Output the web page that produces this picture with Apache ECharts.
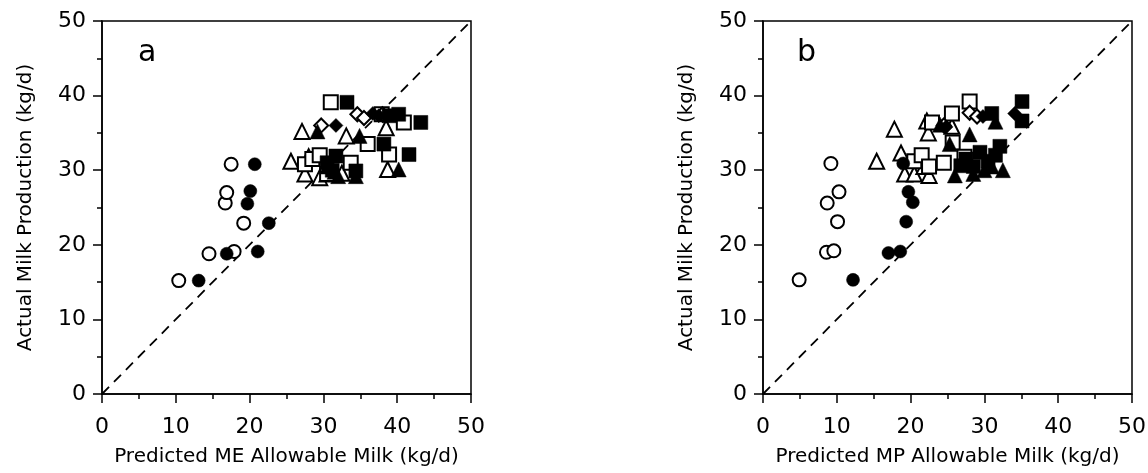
<!DOCTYPE html>
<html><head><meta charset="utf-8">
<script src="https://cdn.jsdelivr.net/npm/echarts@6/dist/echarts.min.js"></script>
<style>html,body{margin:0;padding:0;background:#fff}#c{width:1148px;height:473px}</style>
</head><body><div id="c"></div><script>
// ---- data ----
const axisMin = 0, axisMax = 50, axisInterval = 10;
const panelLabels = ['a', 'b'];
const xTitles = ['Predicted ME Allowable Milk (kg/d)', 'Predicted MP Allowable Milk (kg/d)'];
const yTitle = 'Actual Milk Production (kg/d)';
const identityLine = [[0, 0], [50, 50]];

// Panel a (ME)
const openCircleA = [[10.4,15.2],[14.5,18.8],[17.9,19.1],[19.2,22.9],[16.7,25.6],[16.9,27.0],[17.5,30.8]];
const filledCircleA = [[13.1,15.2],[16.9,18.8],[21.1,19.1],[22.6,22.9],[19.7,25.5],[20.1,27.2],[20.7,30.8]];
const openTriA = [[27.1,35.2],[33.1,34.6],[38.5,35.7],[25.6,31.2],[38.7,30.1],[28.0,31.8],[27.5,29.5],[29.5,29.0],[30.5,29.5],[32.5,29.6]];
const filledTriA = [[29.2,35.2],[34.9,34.6],[40.2,30.1],[34.4,29.2],[30.5,30.5],[31.5,29.8],[32.0,29.2]];
const openSqA = [[31.0,39.1],[37.9,37.5],[40.9,36.4],[36.0,33.5],[38.9,32.1],[27.5,30.8],[28.5,31.5],[30.5,29.5],[33.7,31.0],[29.5,32.0]];
const filledSqA = [[33.2,39.1],[38.9,37.3],[40.2,37.5],[43.2,36.4],[38.2,33.5],[41.6,32.1],[31.7,31.9],[34.4,29.9],[30.5,31.0],[31.2,30.0]];
const openDiaA = [[29.7,36.0],[34.6,37.5],[35.5,37.0],[38.0,37.5]];
const filledDiaA = [[31.7,36.0],[36.7,37.6],[37.5,37.3]];

// Panel b (MP)
const openCircleB = [[4.9,15.3],[8.6,19.0],[9.6,19.2],[10.1,23.1],[8.7,25.6],[10.3,27.1],[9.2,30.9]];
const filledCircleB = [[12.2,15.3],[17.0,18.9],[18.6,19.1],[19.4,23.1],[20.3,25.7],[19.7,27.1],[19.0,30.9]];
const openTriB = [[17.8,35.5],[15.4,31.2],[18.7,32.3],[19.2,29.5],[22.2,36.6],[22.4,35.0],[25.6,35.9],[20.5,29.5],[22.5,29.3],[21.8,30.5]];
const filledTriB = [[24.0,36.1],[28.0,34.8],[25.3,33.5],[28.5,29.5],[30.0,30.0],[31.0,30.5],[26.0,29.3],[32.5,30.0],[31.5,36.5]];
const openSqB = [[28.0,39.2],[25.6,37.6],[22.9,36.4],[25.7,33.7],[20.5,31.2],[21.5,32.0],[24.5,31.0],[22.5,30.5],[27.3,31.8]];
const filledSqB = [[35.1,39.2],[31.0,37.6],[35.1,36.6],[32.1,33.2],[29.4,32.4],[27.5,31.5],[28.5,30.5],[30.5,31.2],[31.5,32.0],[26.8,30.6]];
const openDiaB = [[28.0,37.7],[24.5,36.0],[29.0,37.2]];
const filledDiaB = [[34.1,37.6],[24.8,35.8],[29.8,37.2]];

// ---- chart ----
const FONT = 'DejaVu Sans';
const grids = [
  {left: 102, right: 677, top: 21, bottom: 79},
  {left: 763, right: 16, top: 21, bottom: 79}
].map(g => Object.assign(g, {show: true, borderColor: '#000', borderWidth: 1.5, backgroundColor: 'transparent', containLabel: false, outerBoundsMode: 'none'}));

function xAx(i) {
  return {
    type: 'value', gridIndex: i, min: axisMin, max: axisMax, interval: axisInterval,
    name: xTitles[i], nameLocation: 'middle', nameGap: 53, nameMoveOverlap: false,
    nameTextStyle: {fontFamily: FONT, fontSize: 20, color: '#000'},
    axisLine: {show: true, onZero: false, lineStyle: {color: '#000', width: 1.5}},
    axisTick: {show: true, inside: false, length: 9, lineStyle: {color: '#000', width: 1.5}},
    minorTick: {show: true, splitNumber: 2, length: 5, lineStyle: {color: '#000', width: 1.5}},
    axisLabel: {fontFamily: FONT, fontSize: 22, color: '#000', margin: 22, showMinLabel: true, showMaxLabel: true},
    splitLine: {show: false}
  };
}
function yAx(i) {
  return {
    type: 'value', gridIndex: i, min: axisMin, max: axisMax, interval: axisInterval,
    name: yTitle, nameLocation: 'middle', nameGap: 66, nameMoveOverlap: false,
    nameTextStyle: {fontFamily: FONT, fontSize: 20, color: '#000'},
    axisLine: {show: true, onZero: false, lineStyle: {color: '#000', width: 1.5}},
    axisTick: {show: true, inside: false, length: 9, lineStyle: {color: '#000', width: 1.5}},
    minorTick: {show: true, splitNumber: 2, length: 5, lineStyle: {color: '#000', width: 1.5}},
    axisLabel: {fontFamily: FONT, fontSize: 22, color: '#000', margin: 16, showMinLabel: true, showMaxLabel: true},
    splitLine: {show: false}
  };
}

const SIZES = {circle: 13, rect: 14, triangle: 15, diamond: 14};
function sc(data, symbol, filled, i) {
  return {
    type: 'scatter', xAxisIndex: i, yAxisIndex: i, data: data, symbol: symbol,
    symbolSize: SIZES[symbol], silent: true, z: filled ? 4 : 3,
    itemStyle: filled ? {color: '#000', borderColor: '#000', borderWidth: 0.5, opacity: 1}
                      : {color: '#fff', borderColor: '#000', borderWidth: 2, opacity: 1}
  };
}
function diag(i) {
  return {
    type: 'line', xAxisIndex: i, yAxisIndex: i, data: identityLine, symbol: 'none', silent: true, z: 2,
    lineStyle: {color: '#000', width: 1.8, type: [10, 7]}
  };
}

const series = [
  diag(0), diag(1),
  sc(openCircleA, 'circle', false, 0), sc(filledCircleA, 'circle', true, 0),
  sc(openTriA, 'triangle', false, 0), sc(openSqA, 'rect', false, 0), sc(openDiaA, 'diamond', false, 0),
  sc(filledTriA, 'triangle', true, 0), sc(filledSqA, 'rect', true, 0), sc(filledDiaA, 'diamond', true, 0),
  sc(openCircleB, 'circle', false, 1), sc(filledCircleB, 'circle', true, 1),
  sc(openTriB, 'triangle', false, 1), sc(openSqB, 'rect', false, 1), sc(openDiaB, 'diamond', false, 1),
  sc(filledTriB, 'triangle', true, 1), sc(filledSqB, 'rect', true, 1), sc(filledDiaB, 'diamond', true, 1)
];

const chart = echarts.init(document.getElementById('c'), null, {renderer: 'canvas'});
chart.setOption({
  animation: false,
  backgroundColor: '#fff',
  grid: grids,
  xAxis: [xAx(0), xAx(1)],
  yAxis: [yAx(0), yAx(1)],
  series: series,
  graphic: [
    {type: 'text', left: 138, top: 38, style: {text: panelLabels[0], font: '30px "DejaVu Sans"', fill: '#000'}},
    {type: 'text', left: 797, top: 38, style: {text: panelLabels[1], font: '30px "DejaVu Sans"', fill: '#000'}}
  ]
});
</script></body></html>
